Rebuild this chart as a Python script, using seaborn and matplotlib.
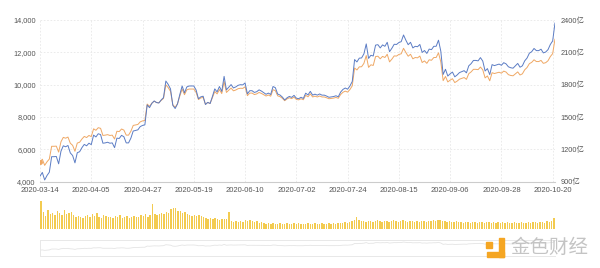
import numpy as np
import pandas as pd
import matplotlib
matplotlib.use("Agg")
import matplotlib.pyplot as plt
import seaborn as sns
from matplotlib.patches import Rectangle

# ---------------- data ----------------
start_date = "2020-03-14"
end_date = "2020-10-21"

price = [
    5200, 5390, 5010, 5230, 5400, 6190, 6190, 6200, 5830, 6470, 6740, 6690, 6760, 6380, 6250, 5880, 6390, 6440,
    6640, 6800, 6730, 6860, 6790, 7270, 7180, 7340, 7300, 6860, 6880, 6910, 6860, 6880, 6640, 7120, 7100, 7260,
    7190, 6880, 6880, 7120, 7480, 7510, 7540, 7700, 7760, 7790, 8800, 8660,
    8860, 8980, 8900, 8880, 9030, 9150, 9990, 9820, 9590, 8760, 8600, 8820, 9300, 9730, 9380, 9680, 9730, 9730,
    9730, 9520, 9080, 9180, 9210, 8790, 8900, 8840, 9200, 9580, 9430, 9700, 9450,
    10200, 9520, 9660, 9790, 9620, 9670, 9750, 9780, 9770, 9870, 9320, 9480, 9480, 9390, 9430, 9520, 9460, 9380,
    9300, 9360, 9290, 9690, 9630, 9310, 9260, 9160, 9010, 9120, 9190, 9140,
    9230, 9090, 9060, 9130, 9070, 9340, 9250, 9430, 9240, 9290, 9240, 9300, 9240, 9240, 9190, 9130, 9150, 9170,
    9210, 9160, 9390, 9530, 9600, 9540, 9700, 9930, 11030, 10910, 11100, 11110, 11320,
    11800, 11070, 11230, 11190, 11740, 11760, 11600, 11750, 11680, 11880, 11410, 11580, 11780, 11770, 11870, 11910,
    12250, 11990, 11760, 11880, 11600, 11680, 11660, 11770, 11370, 11470, 11320, 11540, 11510, 11680, 11680,
    11970, 11410, 10250, 10510, 10170, 10280, 10370, 10130, 10220, 10340, 10390, 10440, 10330, 10680, 10790, 10950,
    10950, 10930, 11090, 10920, 10420, 10540, 10240, 10740, 10690, 10730, 10770, 10710, 10840, 10780,
    10620, 10570, 10550, 10670, 10790, 10600, 10670, 10920, 11060, 11300, 11380, 11540, 11430, 11430, 11500, 11320,
    11360, 11480, 11740, 11920, 12820,
]

market_cap_yi = [
    951, 986, 916, 957, 988, 1132, 1132, 1134, 1066, 1183, 1233, 1224, 1236, 1167, 1143, 1075, 1169, 1178,
    1216, 1246, 1233, 1257, 1244, 1332, 1315, 1345, 1337, 1257, 1260, 1266, 1257, 1260, 1216, 1304, 1301, 1330,
    1317, 1260, 1260, 1304, 1370, 1376, 1381, 1411, 1422, 1427, 1612, 1587,
    1627, 1649, 1634, 1630, 1658, 1680, 1834, 1803, 1761, 1608, 1579, 1621, 1709, 1788, 1724, 1779, 1788, 1788,
    1788, 1750, 1669, 1687, 1693, 1616, 1636, 1625, 1691, 1761, 1733, 1783, 1737,
    1877, 1752, 1777, 1801, 1770, 1779, 1794, 1800, 1798, 1816, 1715, 1744, 1744, 1728, 1735, 1752, 1741, 1726,
    1711, 1722, 1709, 1783, 1772, 1713, 1704, 1685, 1658, 1678, 1691, 1682,
    1701, 1675, 1670, 1683, 1672, 1721, 1705, 1738, 1703, 1712, 1703, 1714, 1703, 1703, 1694, 1683, 1686, 1690,
    1697, 1688, 1731, 1756, 1769, 1758, 1788, 1830, 2033, 2011, 2046, 2048, 2086,
    2178, 2044, 2073, 2066, 2167, 2171, 2141, 2169, 2156, 2193, 2106, 2138, 2175, 2173, 2191, 2199,
    2261, 2213, 2171, 2193, 2141, 2156, 2152, 2173, 2099, 2117, 2090, 2130, 2125, 2156, 2156,
    2213, 2110, 1895, 1943, 1880, 1901, 1917, 1873, 1890, 1912, 1921, 1930, 1910, 1975, 1995, 2025,
    2025, 2021, 2051, 2019, 1927, 1949, 1893, 1986, 1977, 1984, 1991, 1980, 2004, 1993,
    1966, 1957, 1953, 1975, 1997, 1962, 1975, 2021, 2047, 2092, 2106, 2136, 2116, 2116, 2129, 2095,
    2103, 2125, 2173, 2206, 2373,
]

volume = [
    28, 17, 13, 19, 15, 16, 14, 18, 16, 14,
    19, 15, 16, 17, 14, 12, 13, 12, 11, 13,
    14, 12, 15, 13, 16, 12, 11, 14, 13, 12,
    12, 11, 13, 12, 14, 11, 12, 13, 11, 12,
    13, 12, 12, 14, 13, 15, 12, 14, 25, 15,
    14, 15, 16, 15, 17, 16, 20, 21, 21, 18,
    18, 16, 17, 15, 14, 13, 14, 13, 14, 13,
    12, 11, 10, 11, 10, 11, 10, 9, 10, 10,
    10, 17, 8, 7, 8, 7, 8, 7, 9, 8,
    9, 8, 7, 8, 6, 7, 6, 5, 6, 5,
    6, 5, 5, 6, 5, 5, 6, 5, 5, 6,
    5, 6, 5, 5, 5, 6, 5, 5, 6, 5,
    5, 6, 5, 5, 6, 5, 6, 5, 6, 6,
    6, 7, 6, 7, 8, 9, 12, 9, 8, 8,
    7, 8, 8, 7, 8, 9, 8, 7, 8, 8,
    7, 8, 9, 8, 7, 8, 9, 8, 7, 8,
    8, 7, 8, 7, 8, 8, 7, 8, 8, 9,
    8, 9, 9, 8, 8, 7, 8, 7, 7, 8,
    7, 7, 6, 7, 7, 6, 7, 7, 6, 7,
    7, 6, 7, 7, 6, 7, 6, 7, 6, 7,
    6, 7, 6, 6, 7, 6, 6, 7, 6, 6,
    7, 6, 7, 7, 6, 7, 7, 6, 8, 7,
    8, 11,
]

tick_labels = ["2020-03-14", "2020-04-05", "2020-04-27", "2020-05-19", "2020-06-10",
               "2020-07-02", "2020-07-24", "2020-08-15", "2020-09-06", "2020-09-28", "2020-10-20"]
left_ticks = [4000, 6000, 8000, 10000, 12000, 14000]
right_ticks = [900, 1200, 1500, 1800, 2100, 2400]

# ---------------- build ----------------
dates = pd.date_range(start_date, end_date, freq="D")
df = pd.DataFrame({"date": dates, "price": price, "mcap": market_cap_yi, "vol": volume})
df["day"] = (df["date"] - df["date"].iloc[0]).dt.days
tick_pos = [(pd.Timestamp(t) - df["date"].iloc[0]).days for t in tick_labels]

sns.set_style("white")
plt.rcParams["font.family"] = ["Liberation Sans", "Noto Sans CJK SC", "DejaVu Sans"]

BLUE = "#5B7CC4"
ORANGE = "#EFA865"
GOLD = "#F3CB50"
GRID = "#E8E8E8"
TXT = "#555555"

fig = plt.figure(figsize=(6.0, 2.68), dpi=100)
W, H = 600.0, 268.0
x0, x1 = 40.0, 555.0

def axes_px(top, bottom):
    return fig.add_axes([x0 / W, 1 - bottom / H, (x1 - x0) / W, (bottom - top) / H])

ax = axes_px(20.0, 181.7)
ax2 = ax.twinx()

xmax = df["day"].iloc[-1]

# grid
for t in tick_pos:
    ax.axvline(t, color=GRID, lw=0.6, ls=(0, (2, 2)), zorder=0)
for v in left_ticks[1:]:
    ax.axhline(v, color=GRID, lw=0.6, ls=(0, (2, 2)), zorder=0)

sns.lineplot(data=df, x="day", y="price", ax=ax, color=ORANGE, lw=0.7, zorder=3)
sns.lineplot(data=df, x="day", y="mcap", ax=ax2, color=BLUE, lw=0.7, zorder=4)
ax.plot(df["day"].iloc[0], df["price"].iloc[0], "o", color=ORANGE, ms=2.5, zorder=5)

ax.set_xlim(0, xmax)
ax.set_ylim(left_ticks[0], left_ticks[-1])
ax2.set_ylim(right_ticks[0], right_ticks[-1])
ax.set_xticks(tick_pos)
ax.set_xticklabels(tick_labels)
ax.set_yticks(left_ticks)
ax.set_yticklabels([f"{v:,}" for v in left_ticks])
ax2.set_yticks(right_ticks)
ax2.set_yticklabels([f"{v}亿" for v in right_ticks])
for a in (ax, ax2):
    a.set_xlabel("")
    a.set_ylabel("")
    for s in a.spines.values():
        s.set_visible(False)
ax.spines["bottom"].set_visible(True)
ax.spines["bottom"].set_color("#CCCCCC")
ax.spines["bottom"].set_linewidth(0.8)
ax.tick_params(axis="x", length=2, width=0.6, color="#CCCCCC", labelsize=5.5, labelcolor=TXT, pad=1.5)
ax.tick_params(axis="y", length=0, labelsize=5.3, labelcolor=TXT, pad=3)
ax2.tick_params(axis="y", length=0, labelsize=5.3, labelcolor=TXT, pad=4)
ax.patch.set_alpha(0)

# volume bars
axb = axes_px(200.3, 229.3)
axb.bar(df["day"], df["vol"], width=0.6, color=GOLD, linewidth=0)
axb.set_xlim(-0.5, xmax + 0.5)
axb.set_ylim(0, 29)
axb.axis("off")

# navigator
axn = axes_px(240.0, 256.0)
sns.lineplot(data=df, x="day", y="mcap", ax=axn, color="#E4E4E4", lw=0.6)
axn.set_xlim(0, xmax)
axn.set_ylim(0, 2600)
axn.set_xticks([])
axn.set_yticks([])
axn.set_xlabel("")
axn.set_ylabel("")
for k, s in axn.spines.items():
    s.set_visible(k in ("top", "bottom", "left"))
    s.set_color("#E8E8E8")
    s.set_linewidth(0.7)

# watermark logo
fig.patches.append(Rectangle((499 / W, 1 - 257 / H), 5 / W, 19 / H, transform=fig.transFigure,
                             color="#F5A623", zorder=10))
fig.patches.append(Rectangle((487 / W, 1 - 257 / H), 17 / W, 5 / H, transform=fig.transFigure,
                             color="#F5A623", zorder=10))
fig.patches.append(Rectangle((486 / W, 1 - 248 / H), 6 / W, 6 / H, transform=fig.transFigure,
                             color="#F5A623", zorder=10))
fig.text(510 / W, 1 - 247 / H, "金色财经", ha="left", va="center", fontsize=14,
         color="#C4C4C4", family=["Noto Sans CJK SC", "DejaVu Sans"])

fig.savefig("out.png", dpi=100)
